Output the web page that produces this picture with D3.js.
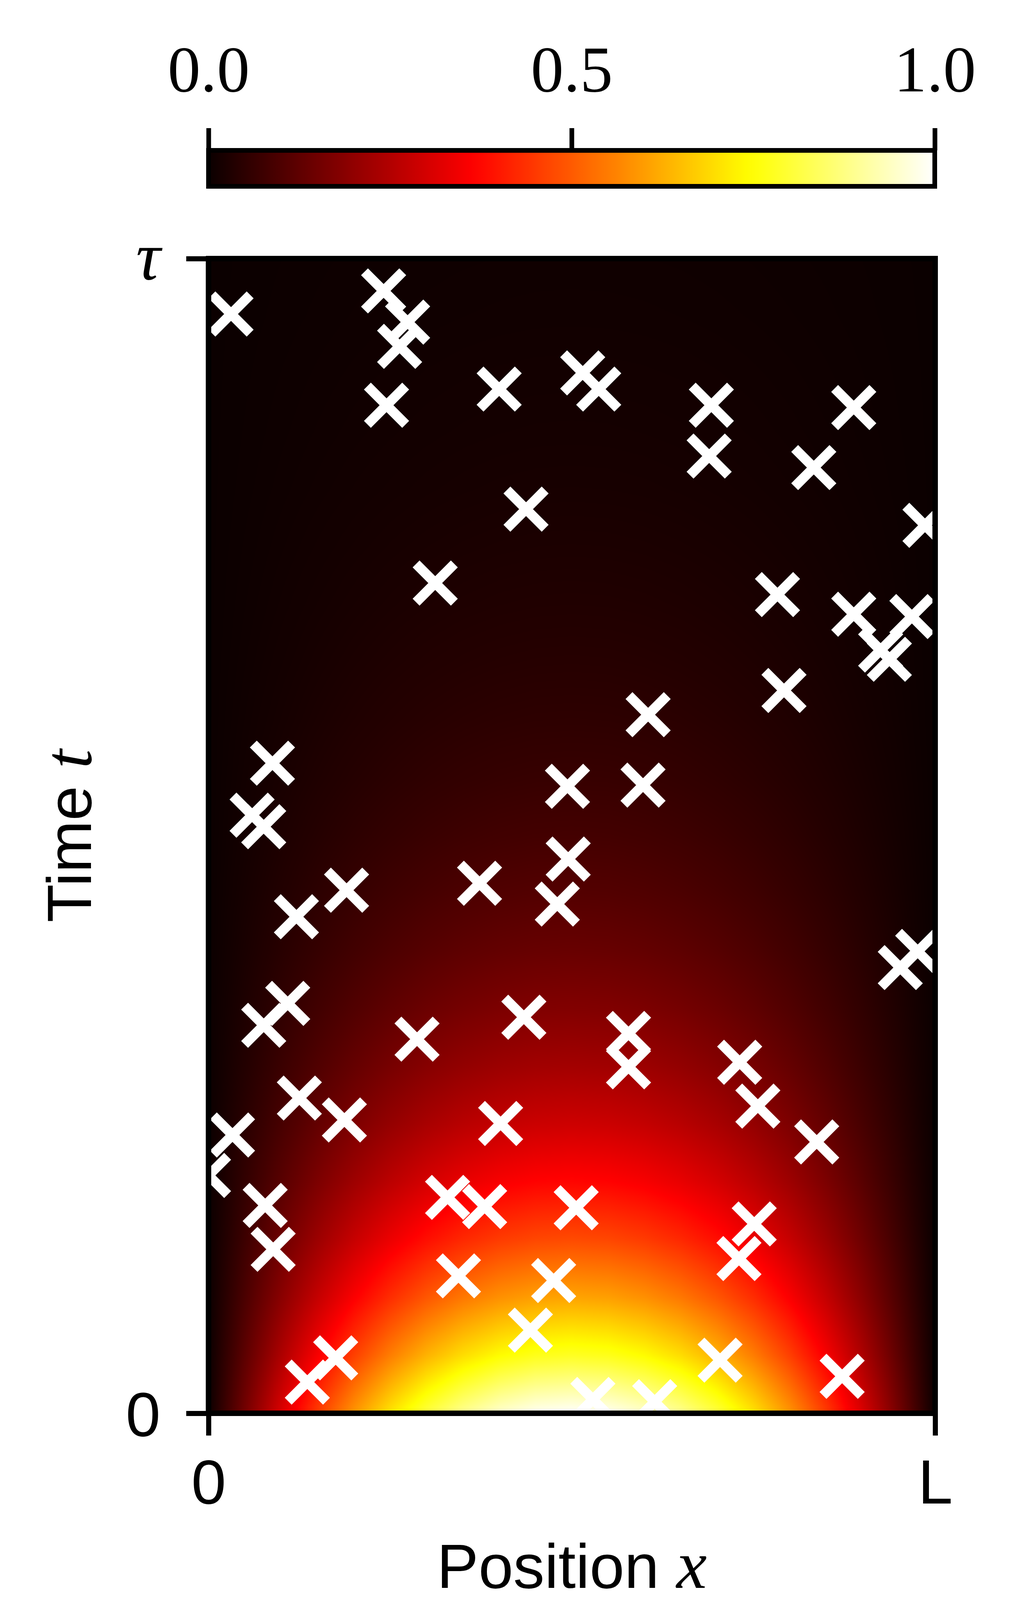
<!DOCTYPE html>
<html>
<head>
<meta charset="utf-8">
<script src="https://cdn.jsdelivr.net/npm/d3@7"></script>
<style>
  html, body { margin: 0; padding: 0; background: #ffffff; }
  svg { display: block; }
</style>
</head>
<body>
<svg id="chart" width="2620" height="4217"></svg>
<script>
// ---------------- data ----------------
const xTickValues = [0, 1];
const xTickLabels = ["0", "L"];
const tTickValues = [0, 1];
const tTickLabels = ["0", "τ"];
const colorbarTickValues = [0, 0.5, 1];
const colorbarTickLabels = ["0.0", "0.5", "1.0"];

const profileX = [0, 0.05, 0.1, 0.15, 0.2, 0.25, 0.3, 0.35, 0.4, 0.45, 0.5,
                  0.55, 0.6, 0.65, 0.7, 0.75, 0.8, 0.85, 0.9, 0.95, 1];
const profileValues = [0, 0.156, 0.309, 0.454, 0.588, 0.707, 0.809, 0.891, 0.951, 0.988, 1,
                       0.988, 0.951, 0.891, 0.809, 0.707, 0.588, 0.454, 0.309, 0.156, 0];

// Decay of the amplitude with time (read along the centre column of the map)
const decayT = [0, 0.05, 0.1, 0.15, 0.2, 0.25, 0.3, 0.35, 0.4, 0.45, 0.5,
                0.55, 0.6, 0.65, 0.7, 0.75, 0.8, 0.85, 0.9, 0.95, 1];
const decayValues = [1, 0.781, 0.611, 0.477, 0.373, 0.291, 0.228, 0.178, 0.139, 0.109, 0.085,
                     0.066, 0.052, 0.041, 0.032, 0.025, 0.019, 0.015, 0.012, 0.009, 0.007];

// Sample points (x in units of L, t in units of tau)
const sampleX = [0.031, 0.241, 0.274, 0.263, 0.245, 0.400, 0.515, 0.537, 0.437, 0.312,
                 0.692, 0.689, 0.888, 0.833, 0.986, 0.783, 0.888, 0.968, 0.925, 0.937,
                 0.792, 0.605, 0.088, 0.060, 0.076, 0.190, 0.121, 0.373, 0.494, 0.598,
                 0.495, 0.480, 0.976, 0.952, 0.109, 0.076, 0.434, 0.287, 0.578, 0.578,
                 0.731, 0.756, 0.837, 0.125, 0.187, 0.402, 0.033, 0.000, 0.078, 0.089,
                 0.329, 0.380, 0.506, 0.344, 0.475, 0.443, 0.751, 0.730, 0.704, 0.872,
                 0.175, 0.136, 0.529, 0.614];
const sampleT = [0.952, 0.972, 0.945, 0.924, 0.873, 0.887, 0.901, 0.887, 0.783, 0.719,
                 0.873, 0.829, 0.871, 0.819, 0.769, 0.709, 0.692, 0.690, 0.661, 0.653,
                 0.626, 0.605, 0.563, 0.518, 0.508, 0.453, 0.430, 0.459, 0.543, 0.544,
                 0.480, 0.441, 0.400, 0.386, 0.355, 0.336, 0.343, 0.324, 0.329, 0.300,
                 0.304, 0.266, 0.235, 0.273, 0.254, 0.251, 0.241, 0.206, 0.180, 0.142,
                 0.187, 0.179, 0.178, 0.119, 0.115, 0.072, 0.164, 0.134, 0.046, 0.032,
                 0.048, 0.027, 0.012, 0.010];

// ---------------- layout ----------------
const AX = { left: 534, right: 2395, top: 662, bottom: 3618 };
const CB = { left: 534, right: 2394, top: 385, bottom: 477 };
const SANS = "'Liberation Sans', Arial, Helvetica, sans-serif";
const SERIF = "'Liberation Serif', 'Times New Roman', serif";

const svg = d3.select("#chart");

const x = d3.scaleLinear().domain([0, 1]).range([AX.left, AX.right]);
const y = d3.scaleLinear().domain([0, 1]).range([AX.bottom, AX.top]);

// matplotlib "hot" colormap
const hot = d3.scaleLinear()
  .domain([0, 0.365079, 0.746032, 1])
  .range(["#0b0000", "#ff0000", "#ffff00", "#ffffff"])
  .clamp(true);

const profile = d3.scaleLinear().domain(profileX).range(profileValues).clamp(true);
const decay = d3.scaleLinear().domain(decayT).range(decayValues).clamp(true);

// ---------------- heat map image ----------------
const W = Math.round(AX.right - AX.left);
const H = Math.round(AX.bottom - AX.top);
const canvas = document.createElement("canvas");
canvas.width = W; canvas.height = H;
const ctx = canvas.getContext("2d");
const img = ctx.createImageData(W, H);
const N = 2048;
const lut = d3.range(N + 1).map(i => d3.rgb(hot(i / N)));
const colP = d3.range(W).map(c => profile(x.invert(AX.left + c + 0.5)));
const rowD = d3.range(H).map(r => decay(y.invert(AX.top + r + 0.5)));
let k = 0;
for (let r = 0; r < H; r++) {
  const dv = rowD[r];
  for (let c = 0; c < W; c++) {
    const v = Math.max(0, Math.min(1, colP[c] * dv));
    const col = lut[Math.round(v * N)];
    img.data[k++] = col.r; img.data[k++] = col.g; img.data[k++] = col.b; img.data[k++] = 255;
  }
}
ctx.putImageData(img, 0, 0);

const defs = svg.append("defs");
defs.append("clipPath").attr("id", "axclip")
  .append("rect")
  .attr("x", AX.left).attr("y", AX.top)
  .attr("width", AX.right - AX.left).attr("height", AX.bottom - AX.top);

svg.append("image")
  .attr("href", canvas.toDataURL("image/png"))
  .attr("x", AX.left).attr("y", AX.top)
  .attr("width", W).attr("height", H)
  .attr("preserveAspectRatio", "none");

// ---------------- markers ----------------
const pts = sampleX.map((d, i) => ({ x: d, t: sampleT[i] }));
const m = 49;
svg.append("g").attr("clip-path", "url(#axclip)")
  .selectAll("path").data(pts).join("path")
  .attr("transform", d => `translate(${x(d.x)},${y(d.t)})`)
  .attr("d", `M${-m},${-m}L${m},${m}M${-m},${m}L${m},${-m}`)
  .attr("fill", "none")
  .attr("stroke", "#ffffff")
  .attr("stroke-width", 25)
  .attr("stroke-linecap", "butt");

// ---------------- spines ----------------
svg.append("rect")
  .attr("x", AX.left).attr("y", AX.top)
  .attr("width", AX.right - AX.left).attr("height", AX.bottom - AX.top)
  .attr("fill", "none").attr("stroke", "#000").attr("stroke-width", 14);

// ---------------- axes ----------------
const xAxis = svg.append("g")
  .attr("transform", `translate(0,${AX.bottom})`)
  .call(d3.axisBottom(x).tickValues(xTickValues)
        .tickFormat((d, i) => xTickLabels[i]).tickSize(57).tickPadding(60));
xAxis.select(".domain").remove();
xAxis.selectAll(".tick line").attr("stroke", "#000").attr("stroke-width", 13);
xAxis.selectAll(".tick text").attr("font-family", SANS).attr("font-size", 160).attr("fill", "#000");

const yAxis = svg.append("g")
  .attr("transform", `translate(${AX.left},0)`)
  .call(d3.axisLeft(y).tickValues(tTickValues)
        .tickFormat((d, i) => tTickLabels[i]).tickSize(57).tickPadding(66));
yAxis.select(".domain").remove();
yAxis.selectAll(".tick line").attr("stroke", "#000").attr("stroke-width", 13);
yAxis.selectAll(".tick text")
  .attr("font-family", SANS).attr("font-size", 160).attr("fill", "#000").attr("dy", "0.36em");
yAxis.selectAll(".tick text").filter(d => d === 1)
  .attr("font-family", SERIF).attr("font-style", "italic").attr("font-size", 175).attr("dy", "0.3em");

// axis labels
const xl = svg.append("text")
  .attr("x", (AX.left + AX.right) / 2).attr("y", 4065)
  .attr("text-anchor", "middle").attr("font-size", 160).attr("fill", "#000");
xl.append("tspan").attr("font-family", SANS).text("Position ");
xl.append("tspan").attr("font-family", SERIF).attr("font-style", "italic").attr("font-size", 175).text("x");

const yl = svg.append("text")
  .attr("transform", `translate(233,${(AX.top + AX.bottom) / 2}) rotate(-90)`)
  .attr("text-anchor", "middle").attr("font-size", 160).attr("fill", "#000");
yl.append("tspan").attr("font-family", SANS).text("Time ");
yl.append("tspan").attr("font-family", SERIF).attr("font-style", "italic").attr("font-size", 175).text("t");

// ---------------- colorbar ----------------
const cx = d3.scaleLinear().domain([0, 1]).range([CB.left, CB.right]);
const grad = defs.append("linearGradient").attr("id", "hotgrad")
  .attr("x1", "0%").attr("x2", "100%").attr("y1", "0%").attr("y2", "0%");
const stops = d3.range(0, 1.0001, 0.02);
grad.selectAll("stop").data(stops).join("stop")
  .attr("offset", d => `${d * 100}%`)
  .attr("stop-color", d => hot(d));

svg.append("rect")
  .attr("x", CB.left).attr("y", CB.top)
  .attr("width", CB.right - CB.left).attr("height", CB.bottom - CB.top)
  .attr("fill", "url(#hotgrad)")
  .attr("stroke", "#000").attr("stroke-width", 12);

const cAxis = svg.append("g")
  .attr("transform", `translate(0,${CB.top})`)
  .call(d3.axisTop(cx).tickValues(colorbarTickValues)
        .tickFormat((d, i) => colorbarTickLabels[i]).tickSize(57).tickPadding(94));
cAxis.select(".domain").remove();
cAxis.selectAll(".tick line").attr("stroke", "#000").attr("stroke-width", 12);
cAxis.selectAll(".tick text").attr("font-family", SERIF).attr("font-size", 168).attr("fill", "#000");
</script>
</body>
</html>
